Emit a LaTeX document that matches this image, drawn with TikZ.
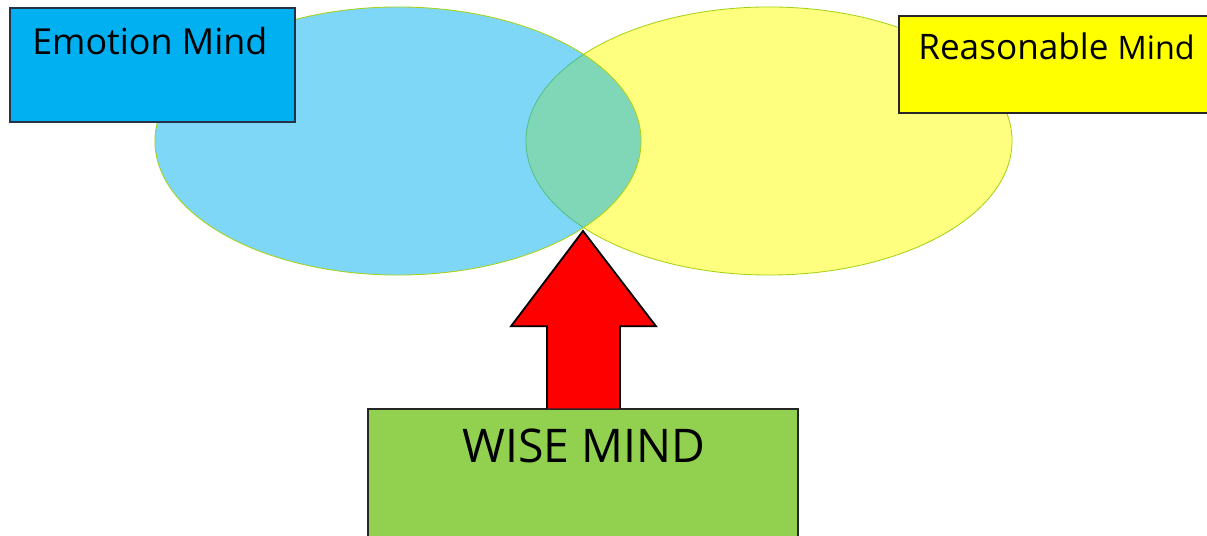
\documentclass[tikz,border=0pt]{standalone}
\usepackage{fontspec}
\setmainfont{Open Sans}
\usepackage{tikz}
\usetikzlibrary{shapes.geometric, positioning, calc}
\definecolor{emoblue}{RGB}{0,176,240}
\definecolor{reasyellow}{RGB}{255,255,0}
\definecolor{wisegreen}{RGB}{146,208,80}
\definecolor{rimgreen}{RGB}{165,210,20}
\definecolor{boxdark}{RGB}{35,50,70}
\definecolor{arrowred}{RGB}{255,0,0}
\tikzset{
  mindset/.style={ellipse, draw=rimgreen, line width=0.6pt,
    minimum width=12.15cm, minimum height=6.7cm, fill opacity=0.5, inner sep=0pt},
  mindbox/.style={rectangle, draw=boxdark, line width=1pt, inner sep=0pt},
  mindtext/.style={inner sep=0pt, text=black},
  wisearrow/.style={draw=black, fill=arrowred, line width=1.3pt, line join=miter}
}
\begin{document}
\begin{tikzpicture}[x=0.025cm, y=-0.025cm]
  \useasboundingbox (0,0) rectangle (1207,536);

  % the two minds
  \node[mindset, fill=reasyellow] (reas) at (769,141) {};
  \node[mindset, fill=emoblue] (emo) at (398,141) {};

  % labels
  \node[mindbox, fill=emoblue, minimum width=7.125cm, minimum height=2.85cm] (emobox) at (152.5,65) {};
  \node[mindtext, anchor=base west, font=\fontsize{25.5}{30}\selectfont] (emotext) at (32,55) {Emotion Mind};

  \node[mindbox, draw=black!85, fill=reasyellow, minimum width=7.9cm, minimum height=2.425cm] (reasbox) at (1057,64.5) {};
  \node[mindtext, anchor=base west] (reastext) at (918,60)
    {\fontsize{25}{28}\selectfont Reasonable \fontsize{23}{26}\selectfont Mind};

  \node[mindbox, draw=black!85, fill=wisegreen, minimum width=10.75cm, minimum height=3.4cm] (wise) at (583,477) {};
  \node[mindtext, anchor=base, font=\fontsize{33}{36}\selectfont] (wisetext) at (584,462) {WISE MIND};

  % arrow up into the overlap
  \coordinate (tip) at (583,231);
  \draw[wisearrow] ($(wise.north)+(-36,0)$) -- ++(0,-82) -- ++(-36,0) -- (tip)
    -- ($(wise.north)+(73,-82)$) -- ++(-36,0) -- ($(wise.north)+(37,0)$);
\end{tikzpicture}
\end{document}
